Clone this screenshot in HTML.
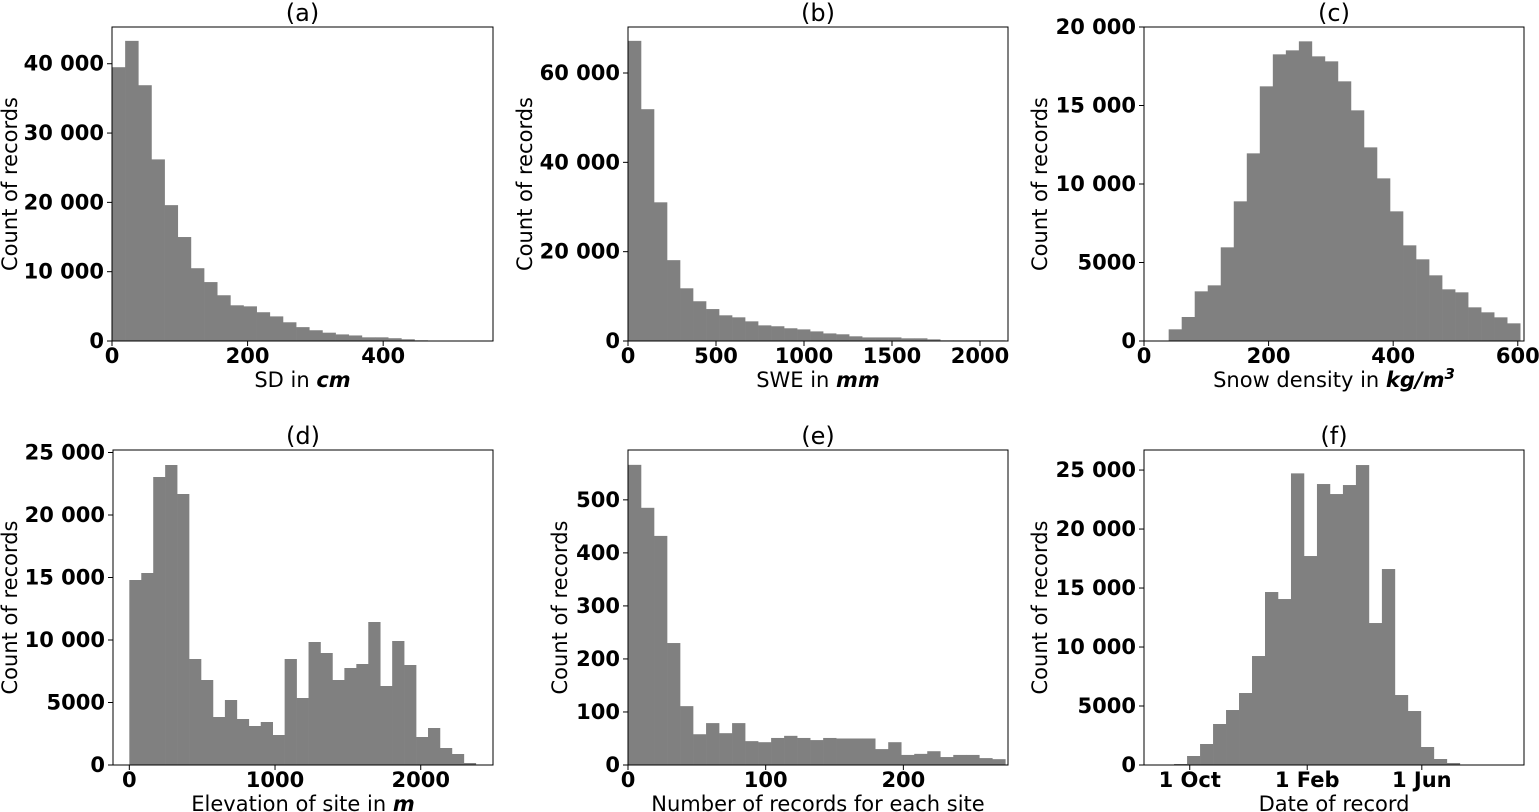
<!DOCTYPE html>
<html><head><meta charset="utf-8"><style>
body{margin:0;background:#fff;width:1539px;height:812px;overflow:hidden}
svg{display:block}
text{font-family:"DejaVu Sans","Liberation Sans",sans-serif;fill:#000}
.tk{font-weight:bold;font-size:21px}
.lb{font-size:21px}
.tt{font-size:24px}
</style></head><body>
<svg id="fig" width="1539" height="812" xmlns="http://www.w3.org/2000/svg"></svg>
<script>
// Data arrays (counts per bin)
const countsA = [39500,43300,36900,26200,19600,15000,10500,8500,6600,5150,5000,4150,3550,2700,2000,1550,1200,950,800,530,530,400,250,100,60,60,50,40,30];
const countsB = [67200,51900,31050,18100,11800,8900,7150,5750,5300,4400,3500,3300,2850,2600,2150,1700,1500,1050,800,800,800,600,600,370,150,150,150,150,150];
const countsC = [743,1529,3163,3545,5966,8895,11952,16220,18258,18513,19086,18131,17812,16539,14691,12333,10359,8258,6093,5202,4183,3291,3100,2144,1826,1507,1125];
const countsD = [14800,15360,23040,24000,21680,8480,6800,3840,5200,3680,3120,3440,2400,8480,5360,9840,8960,6800,7760,8080,11440,6320,9920,8000,2240,2960,1360,880,160];
const countsE = [566,485,432,230,111,58,79,60,79,45,43,51,55,51,47,51,50,50,50,30,43,19,21,26,15,19,19,13,11];
const countsF = [85,763,1780,3475,4661,6102,9237,14662,14068,24719,17713,23815,22967,23730,25425,12034,16611,5932,4576,1525,508,170];
// bin starts / widths (data units)
const binsA = [0, 19.4];
const binsB = [0, 73.9];
const binsC = [39.6, 20.9];
const binsD = [0, 82];
const binsE = [0, 9.45];
const binsF = [-16.4, 13.6];
// axis limits
const xlimA=[0,562], ylimA=[0,45300];
const xlimB=[0,2159], ylimB=[0,70300];
const xlimC=[0,610], ylimC=[0,20000];
const xlimD=[-112,2496], ylimD=[0,25200];
const xlimE=[0,276], ylimE=[0,594];
const xlimF=[-47.9,350], ylimF=[0,26700];
// ticks
const xticksA=[0,200,400], xtickLabelsA=["0","200","400"];
const yticksA=[0,10000,20000,30000,40000], ytickLabelsA=["0","10 000","20 000","30 000","40 000"];
const xticksB=[0,500,1000,1500,2000], xtickLabelsB=["0","500","1000","1500","2000"];
const yticksB=[0,20000,40000,60000], ytickLabelsB=["0","20 000","40 000","60 000"];
const xticksC=[0,200,400,600], xtickLabelsC=["0","200","400","600"];
const yticksC=[0,5000,10000,15000,20000], ytickLabelsC=["0","5000","10 000","15 000","20 000"];
const xticksD=[0,1000,2000], xtickLabelsD=["0","1000","2000"];
const yticksD=[0,5000,10000,15000,20000,25000], ytickLabelsD=["0","5000","10 000","15 000","20 000","25 000"];
const xticksE=[0,100,200], xtickLabelsE=["0","100","200"];
const yticksE=[0,100,200,300,400,500], ytickLabelsE=["0","100","200","300","400","500"];
const xticksF=[0,123,243], xtickLabelsF=["1 Oct","1 Feb","1 Jun"];
const yticksF=[0,5000,10000,15000,20000,25000], ytickLabelsF=["0","5000","10 000","15 000","20 000","25 000"];

const NS="http://www.w3.org/2000/svg";
const fig=document.getElementById('fig');
function mk(tag,attrs,parent){const e=document.createElementNS(NS,tag);for(const k in attrs)e.setAttribute(k,attrs[k]);(parent||fig).appendChild(e);return e;}

function panel(id,box,xlim,ylim,bins,counts,xt,xtl,yt,ytl,title,xlabelParts,ylabX){
  const [L,T,R,B]=box;
  const g=mk('g',{});
  
  
  const sx=v=>L+(v-xlim[0])/(xlim[1]-xlim[0])*(R-L);
  const sy=v=>B-(v-ylim[0])/(ylim[1]-ylim[0])*(B-T);
  counts.forEach((c,i)=>{
    const x0=sx(bins[0]+i*bins[1]), x1=sx(bins[0]+(i+1)*bins[1]);
    const r=mk('rect',{x:x0,y:sy(c),width:Math.max(0,x1-x0)+0.3,height:B-sy(c),fill:'#808080'},g);
    
    
  });
  const fr=mk('rect',{x:L,y:T,width:R-L,height:B-T,fill:'none',stroke:'#000','stroke-width':1},g);
  
  
  xt.forEach((v,i)=>{
    const x=sx(v);
    mk('line',{x1:x,x2:x,y1:B,y2:B+5,stroke:'#000'},g);
    const t=mk('text',{x:x,y:B+22,'text-anchor':'middle',class:'tk'},g);
    t.textContent=xtl[i];
    
    
  });
  yt.forEach((v,i)=>{
    const y=sy(v);
    mk('line',{x1:L-5,x2:L,y1:y,y2:y,stroke:'#000'},g);
    const t=mk('text',{x:L-8,y:y+7,'text-anchor':'end',class:'tk'},g);
    t.textContent=ytl[i];
    
    
  });
  const tt=mk('text',{x:(L+R)/2,y:T-6,'text-anchor':'middle',class:'tt'},g);
  tt.textContent=title;
  
  
  const xl=mk('text',{x:(L+R)/2,y:B+46,'text-anchor':'middle',class:'lb'},g);
  
  
  const s1=mk('tspan',{},xl); s1.textContent=xlabelParts[0];
  if(xlabelParts[1]){const s2=mk('tspan',{'font-weight':'bold','font-style':'italic'},xl); s2.textContent=xlabelParts[1];}
  if(xlabelParts[2]){const s3=mk('tspan',{'font-weight':'bold','font-style':'italic','font-size':'15px',dy:-8},xl); s3.textContent=xlabelParts[2];}
  const cy=(T+B)/2;
  const yl=mk('text',{x:ylabX,y:cy,'text-anchor':'middle',class:'lb',transform:`rotate(-90 ${ylabX} ${cy})`},g);
  yl.textContent='Count of records';
  
  
}
panel('a',[112,27,493,341],xlimA,ylimA,binsA,countsA,xticksA,xtickLabelsA,yticksA,ytickLabelsA,'(a)',['SD in ','cm'],17);
panel('b',[628,27,1008,341],xlimB,ylimB,binsB,countsB,xticksB,xtickLabelsB,yticksB,ytickLabelsB,'(b)',['SWE in ','mm'],532);
panel('c',[1144,27,1524,341],xlimC,ylimC,binsC,countsC,xticksC,xtickLabelsC,yticksC,ytickLabelsC,'(c)',['Snow density in ','kg/m','3'],1047);
panel('d',[113,450,493,765],xlimD,ylimD,binsD,countsD,xticksD,xtickLabelsD,yticksD,ytickLabelsD,'(d)',['Elevation of site in ','m'],17);
panel('e',[628,450,1008,765],xlimE,ylimE,binsE,countsE,xticksE,xtickLabelsE,yticksE,ytickLabelsE,'(e)',['Number of records for each site'],567);
panel('f',[1144,450,1524,765],xlimF,ylimF,binsF,countsF,xticksF,xtickLabelsF,yticksF,ytickLabelsF,'(f)',['Date of record'],1047);
</script>
</body></html>
